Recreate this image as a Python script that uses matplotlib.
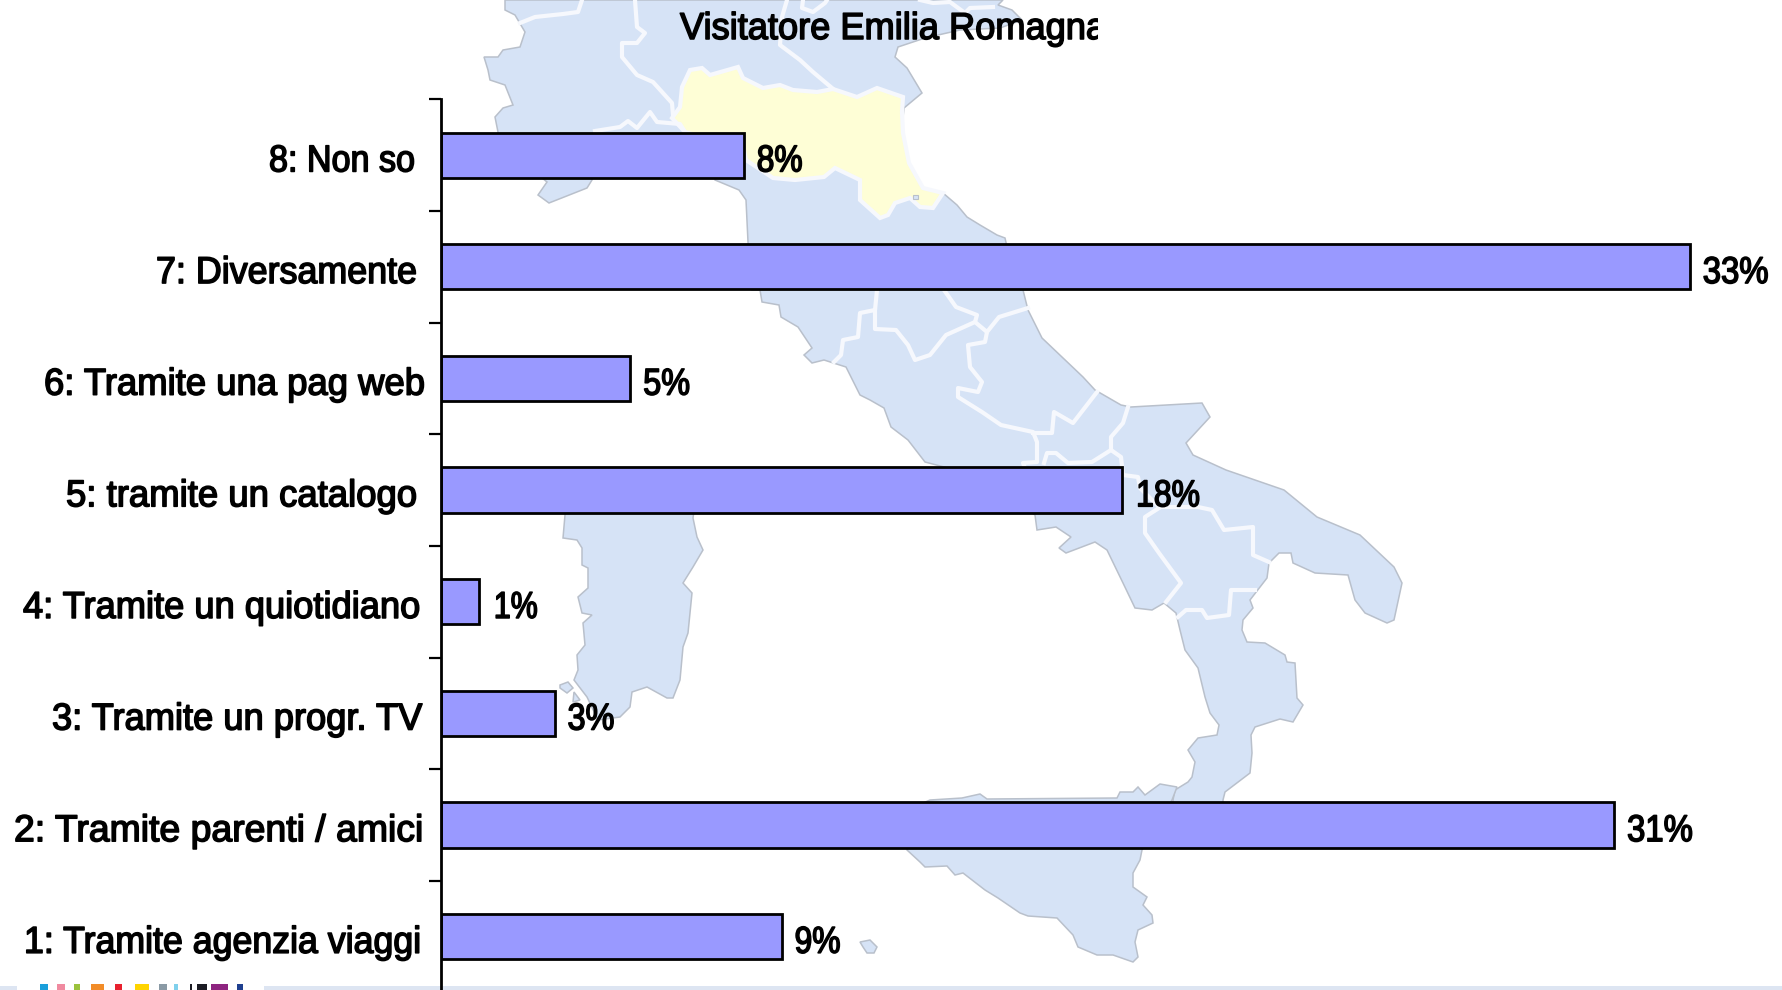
import matplotlib
matplotlib.use("Agg")
import matplotlib.pyplot as plt
from matplotlib.patches import Polygon, Rectangle
from matplotlib.transforms import Affine2D, Bbox
import matplotlib.patheffects as pe

# ---- chart data ----
categories = ["1: Tramite agenzia viaggi", "2: Tramite parenti / amici", "3: Tramite un progr. TV",
              "4: Tramite un quiotidiano", "5: tramite un catalogo", "6: Tramite una pag web",
              "7: Diversamente", "8: Non so"]
values = [9, 31, 3, 1, 18, 5, 33, 8]
value_labels = ["9%", "31%", "3%", "1%", "18%", "5%", "33%", "8%"]
title_text = "Visitatore Emilia Romagna"

# ---- text extents in image pixels (layout only) ----
label_left = [24, 14, 52, 23, 66, 44, 156, 269]
label_right = [421, 423, 422, 420, 417, 425, 417, 415]
value_width = [46, 66, 47, 44, 64, 47, 66, 46]
value_gap = [13, 13, 13, 15, 14, 13, 13, 13]

# ---- background picture outlines (image pixels) ----
mainland = [(505,0),(505,10),(515,15),(525,32),(520,47),(503,50),(498,57),(484,57),(488,70),(490,80),(505,85),
 (513,105),(503,108),(495,117),(498,132),(498,165),(535,172),(547,182),(538,195),(549,203),(587,188),(592,180),
 (592,170),(715,170),(715,180),(739,190),(746,200),(748,242),(752,290),(760,290),(762,302),(779,305),(781,317),(798,327),
 (812,348),(804,355),(812,363),(824,360),(846,367),(860,395),(870,400),(884,408),(891,427),(908,440),(925,462),
 (944,467),(1000,490),(1035,515),(1037,530),(1056,527),(1071,537),(1059,548),(1066,553),(1095,542),(1107,550),
 (1123,583),(1135,608),(1152,610),(1164,603),(1176,613),(1180,630),(1185,650),(1198,668),(1205,697),(1210,713),
 (1219,725),(1217,735),(1198,738),(1188,750),(1195,762),(1192,777),(1188,782),(1175,790),(1173,800),(1173,810),
 (1223,810),(1223,800),(1225,792),(1250,773),(1252,753),(1251,735),(1255,727),(1280,719),(1293,722),(1303,705),
 (1297,698),(1295,663),(1287,662),(1285,655),(1265,643),(1247,642),(1242,630),(1243,620),(1253,608),(1250,600),
 (1267,578),(1269,563),(1279,553),(1291,553),(1293,563),(1315,573),(1348,575),(1355,600),(1365,613),(1387,623),
 (1394,620),(1402,583),(1394,567),(1360,535),(1317,517),(1284,490),(1226,470),(1193,455),(1186,443),(1210,417),
 (1202,403),(1131,407),(1121,405),(1095,390),(1083,377),(1042,338),(1028,310),(1023,290),(1010,260),(1005,238),
 (997,235),(980,225),(967,217),(957,205),(943,193),(923,188),(909,163),(902,127),(904,108),(922,93),(907,68),(895,57),
 (898,47),(925,38),(960,30),(1000,28),(1022,20),(1012,10),(998,5),(1003,0)]
sardinia = [(565,490),(565,515),(563,538),(577,540),(582,548),(582,565),(588,568),(588,588),(578,597),(582,613),
 (592,615),(583,623),(585,645),(577,655),(578,670),(574,680),(587,697),(598,720),(620,717),(630,707),(632,692),
 (647,687),(667,698),(673,698),(680,680),(683,647),(688,633),(692,593),(683,583),(693,567),(703,550),(697,537),
 (693,518),(697,490)]
sicily = [(930,800),(962,798),(980,794),(987,799),(1117,798),(1120,792),(1133,792),(1138,787),(1145,795),(1160,784),
 (1177,787),(1172,800),(1142,850),(1140,860),(1133,873),(1133,887),(1147,897),(1143,905),(1152,915),(1153,923),
 (1138,930),(1135,942),(1138,957),(1133,962),(1113,955),(1097,955),(1078,947),(1073,935),(1057,918),(1028,916),
 (1020,913),(998,898),(985,890),(963,873),(955,875),(947,866),(925,867),(920,862),(907,850),(907,810)]
islet_a = [(860,942),(870,940),(877,947),(874,953),(867,953),(863,947)]
islet_b = [(560,685),(568,682),(573,688),(567,693),(560,688)]
islet_c = [(574,692),(580,700),(573,702)]
emilia = [(672,118),(680,107),(682,87),(690,70),(702,68),(710,75),(738,67),(743,78),(763,88),(780,85),(793,90),
 (817,92),(833,89),(857,97),(877,88),(903,97),(902,112),(903,133),(909,163),(923,188),(943,193),(933,208),(920,207),
 (910,198),(895,203),(888,215),(880,218),(860,200),(860,180),(835,168),(824,177),(795,180),(773,178),(746,160),(744,150),(685,132)]
san_marino = [(913,195),(918,195),(918,199),(913,199)]
borders = [
 [(582,0),(578,12),(563,14),(535,17),(520,23)],
 [(635,0),(637,27),(645,33),(637,43),(622,43),(622,57),(637,75),(653,82),(672,103),(673,115)],
 [(595,131),(620,127),(628,121),(637,128),(650,112),(657,122),(680,124),(685,132)],
 [(787,0),(782,17),(780,45),(800,60),(813,72),(832,88)],
 [(803,0),(802,8),(813,12),(825,3),(827,0)],
 [(920,0),(933,3),(950,2),(965,13),(970,8),(993,7)],
 [(877,290),(875,310),(860,313),(858,337),(843,340),(841,355),(834,362)],
 [(875,310),(875,329),(896,330),(908,345),(915,360),(930,355),(946,335),(975,322),(987,332),(999,317),(1028,308)],
 [(944,290),(956,307),(977,315),(975,322)],
 [(987,332),(985,342),(968,345),(970,367),(982,382),(978,392),(958,388),(958,397),(982,412),(1001,425),(1033,432),
  (1037,442),(1037,462),(1023,463),(1025,468)],
 [(1033,433),(1052,433),(1054,412),(1073,423),(1097,392)],
 [(1128,407),(1123,423),(1111,437),(1111,450),(1092,462),(1068,463),(1056,453),(1047,453),(1044,463)],
 [(1111,450),(1121,457),(1123,475),(1138,477),(1140,488),(1159,507),(1198,507),(1212,510),(1224,530),(1253,527),
  (1253,555),(1269,562)],
 [(1159,508),(1145,517),(1145,533),(1159,553),(1181,583),(1166,602)],
 [(1178,617),(1186,610),(1202,610),(1207,618),(1229,615),(1231,590),(1255,590)],
]
strips = [(0,17),(264,1782)]
swatches = [(40,48,"#1a9fdb"),(57,65,"#f08aa0"),(74,80,"#9bc23c"),(91,104,"#f28c28"),(115,122,"#e8212e"),
            (135,149,"#ffd400"),(159,167,"#8a9aa5"),(174,178,"#7fd0ec"),(190,192,"#1c1c24"),(197,207,"#1c1c24"),
            (211,228,"#8e2480"),(237,243,"#1f3f8f")]

plt.rcParams["font.family"] = ["Liberation Sans", "DejaVu Sans"]


class Squeeze(pe.AbstractPathEffect):
    """Draw glyphs horizontally condensed about the text origin, with a thin outline."""
    def __init__(self, sx, lw=0.8):
        super().__init__()
        self.sx, self.lw = sx, lw

    def draw_path(self, renderer, gc, tpath, affine, rgbFace=None):
        gc0 = renderer.new_gc()
        gc0.copy_properties(gc)
        gc0.set_foreground("black")
        gc0.set_linewidth(renderer.points_to_pixels(self.lw))
        renderer.draw_path(gc0, tpath, Affine2D().scale(self.sx, 1) + affine, rgbFace)
        gc0.restore()


W, H = 1782, 990
PT = 72 / 100  # points per pixel at this dpi
fig = plt.figure(figsize=(W/100, H/100), dpi=100, facecolor="white")
renderer = fig.canvas.get_renderer()

bg = fig.add_axes([0, 0, 1, 1], zorder=0)
bg.set_xlim(0, W); bg.set_ylim(H, 0); bg.axis("off")
LAND, COAST, EDGE = "#d6e3f6", "#b9c0cb", "#f6f8fd"
for poly in (mainland, sardinia, sicily, islet_a, islet_b, islet_c):
    bg.add_patch(Polygon(poly, closed=True, fc=LAND, ec=COAST, lw=1.1))
for line in borders:
    xs, ys = zip(*line)
    bg.plot(xs, ys, color=EDGE, lw=3.0, solid_joinstyle="round")
bg.add_patch(Polygon(emilia, closed=True, fc="#fefed6", ec=EDGE, lw=3.0))
bg.add_patch(Polygon(san_marino, closed=True, fc=LAND, ec=COAST, lw=0.8))
for a, b in strips:
    bg.add_patch(Rectangle((a, 986), b-a, 6, fc="#dde5f2", ec="none"))
for a, b, c in swatches:
    bg.add_patch(Rectangle((a, 984), b-a, 8, fc=c, ec="none"))

# main chart
AX_LEFT = 441
px_per_unit = 37.84
ax = fig.add_axes([AX_LEFT/W, 1-992.4/H, (W-AX_LEFT)/W, (992.4-99.4)/H], zorder=1)
ax.patch.set_alpha(0)
ax.set_xlim(0, (W-AX_LEFT)/px_per_unit)
ax.set_ylim(-0.5, 7.5)
pos = list(range(len(values)))
ax.barh(pos, values, height=0.405, color="#9999ff", edgecolor="black", linewidth=2.0)
for s in ("top", "right", "bottom"):
    ax.spines[s].set_visible(False)
ax.spines["left"].set_linewidth(2.0)
ax.xaxis.set_visible(False)
ax.set_yticks([p-0.5 for p in pos] + [7.5])
ax.set_yticklabels([])
ax.tick_params(axis="y", length=8.5, width=1.6)

FS = 27
DY = -4.5  # text sits slightly below the bar centre


def condense(txt, target_px):
    natural = txt.get_window_extent(renderer).width
    txt.set_path_effects([Squeeze(target_px / natural)])


for p, cat, l, r in zip(pos, categories, label_left, label_right):
    t = ax.annotate(cat, (0, p), xytext=((l-AX_LEFT)*PT, DY), textcoords="offset points", ha="left", va="center",
                    fontsize=FS, color="black", annotation_clip=False)
    condense(t, r-l)
for p, v, lab, w, g in zip(pos, values, value_labels, value_width, value_gap):
    t = ax.annotate(lab, (v, p), xytext=(g*PT, DY), textcoords="offset points", ha="left", va="center",
                    fontsize=FS, color="black", annotation_clip=False)
    condense(t, w)

title = bg.text(680, 29, title_text, ha="left", va="center", fontsize=FS, color="black", zorder=5)
condense(title, 426)
title.set_clip_on(True)
title.set_clip_box(Bbox.from_extents(0, 0, 1098, H))

fig.savefig("out.png", dpi=100)
